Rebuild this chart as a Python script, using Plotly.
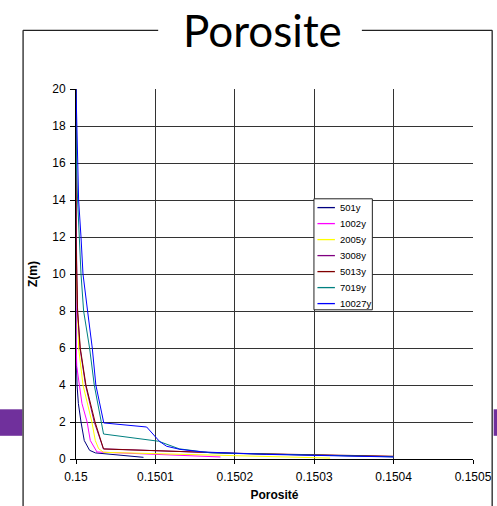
import plotly.graph_objects as go

# ---- data ----
series_names = ["501y", "1002y", "2005y", "3008y", "5013y", "7019y", "10027y"]
series_colors = ["#000080", "#FF00FF", "#FFFF00", "#800080", "#800000", "#008080", "#0000FF"]

z_501 = [20, 6, 4, 3, 2, 1, 0.47, 0.33, 0.09]
x_501 = [0.15, 0.15, 0.1500013, 0.150003, 0.1500063, 0.1500104, 0.1500171, 0.1500245, 0.150085]

z_1002 = [20, 6.5, 5, 4, 3, 2, 1, 0.38, 0.11]
x_1002 = [0.15, 0.15, 0.150001, 0.1500045, 0.1500075, 0.150014, 0.150018, 0.1500264, 0.150182]

z_2005 = [20, 10.5, 8, 6, 4, 2, 1, 0.56, 0.36, 0.05]
x_2005 = [0.15, 0.15, 0.150002, 0.1500033, 0.1500088, 0.15002, 0.1500243, 0.1500285, 0.1500347, 0.15032]

z_3008 = [20, 14, 10, 8, 6, 4, 2, 0.55, 0.3, 0.13]
x_3008 = [0.15, 0.15, 0.150001, 0.150002, 0.150005, 0.150012, 0.150023, 0.1500345, 0.1502, 0.1504]

z_5013 = [20, 16, 12, 8, 6, 4, 2, 0.54, 0.31, 0.15]
x_5013 = [0.15, 0.15, 0.15, 0.150002, 0.1500054, 0.1500125, 0.150024, 0.1500347, 0.1502, 0.1504]

z_7019 = [20, 18, 16, 14, 12, 10, 8, 6, 4, 1.35, 0.96, 0.55, 0.33, 0.12]
x_7019 = [0.15, 0.15, 0.1500005, 0.150002, 0.1500038, 0.1500063, 0.1500096, 0.1500171, 0.150023,
          0.1500347, 0.150104, 0.15013, 0.15017, 0.1504]

z_10027 = [20, 16, 14, 12, 10, 8, 6, 4, 1.95, 1.73, 0.96, 0.69, 0.52, 0.38, 0.25, 0.11]
x_10027 = [0.15, 0.150002, 0.1500033, 0.1500063, 0.1500088, 0.1500146, 0.1500205, 0.150025,
           0.150035, 0.150089, 0.150105, 0.150114, 0.150131, 0.15016, 0.15024, 0.1504]

x_ticks = [0.15, 0.1501, 0.1502, 0.1503, 0.1504, 0.1505]
x_tick_labels = ["0.15", "0.1501", "0.1502", "0.1503", "0.1504", "0.1505"]
y_ticks = list(range(0, 21, 2))

all_x = [x_501, x_1002, x_2005, x_3008, x_5013, x_7019, x_10027]
all_z = [z_501, z_1002, z_2005, z_3008, z_5013, z_7019, z_10027]

W, H = 497, 506
L, R, T, B = 75.7, 473.3, 88.7, 458.7

fig = go.Figure()
for name, col, xs, zs in zip(series_names, series_colors, all_x, all_z):
    fig.add_trace(go.Scatter(x=xs, y=zs, mode="lines", name=name,
                             line=dict(color=col, width=1), showlegend=False))


def px(xp):
    return (xp - L) / (R - L)


def py(yp):
    return (B - yp) / (B - T)


shapes = []
annotations = []
# frame around chart (slide box)
frame = dict(type="line", xref="paper", yref="paper", line=dict(color="#222", width=1.3))
shapes.append(dict(frame, x0=px(22.7), x1=px(22.7), y0=py(30), y1=py(520)))
shapes.append(dict(frame, x0=px(492.5), x1=px(492.5), y0=py(30), y1=py(520)))
shapes.append(dict(frame, x0=px(22.7), x1=px(158), y0=py(30), y1=py(30)))
shapes.append(dict(frame, x0=px(362), x1=px(492.5), y0=py(30), y1=py(30)))
# purple bands
shapes.append(dict(type="rect", xref="paper", yref="paper", x0=px(-5), x1=px(22), y0=py(409), y1=py(435.5),
                   fillcolor="#70309C", line=dict(width=0), layer="below"))
shapes.append(dict(type="rect", xref="paper", yref="paper", x0=px(494), x1=px(505), y0=py(409), y1=py(435.5),
                   fillcolor="#70309C", line=dict(width=0), layer="below"))

# legend box (drawn to match the original compact spacing)
shapes.append(dict(type="rect", xref="paper", yref="paper", x0=px(314), x1=px(372.5), y0=py(198.5), y1=py(309.5),
                   fillcolor="white", line=dict(color="#222", width=1)))
for i, (name, col) in enumerate(zip(series_names, series_colors)):
    yy = 207.3 + 16 * i
    shapes.append(dict(type="line", xref="paper", yref="paper", x0=px(317.5), x1=px(335), y0=py(yy), y1=py(yy),
                       line=dict(color=col, width=1.3)))
    annotations.append(dict(text=name, xref="paper", yref="paper", x=px(338.3), y=py(yy),
                            xanchor="left", yanchor="middle", showarrow=False,
                            font=dict(family="Liberation Sans, Arial", size=9.5, color="black")))

annotations.append(dict(text="Porosite", xref="paper", yref="paper", x=px(262), y=py(30),
                        xanchor="center", yanchor="middle", showarrow=False,
                        font=dict(family="Lato", size=44, color="black")))

fig.update_layout(
    width=W, height=H,
    margin=dict(l=L, r=W - R, t=T, b=H - B),
    paper_bgcolor="white", plot_bgcolor="white",
    shapes=shapes,
    showlegend=False,
    font=dict(family="Liberation Sans, Arial", size=12, color="black"),
    annotations=annotations,
)
fig.update_xaxes(range=[0.15, 0.1505], tickvals=x_ticks, ticktext=x_tick_labels,
                 showgrid=True, gridcolor="#333", gridwidth=1,
                 showline=True, linecolor="black", linewidth=1,
                 ticks="outside", ticklen=4, tickcolor="black", zeroline=False,
                 ticklabelstandoff=3, automargin=False,
                 title=dict(text="<b>Porosité</b>", font=dict(size=12), standoff=7),
                 tickfont=dict(size=12))
fig.update_yaxes(range=[0, 20], tickvals=y_ticks,
                 showgrid=True, gridcolor="#333", gridwidth=1,
                 showline=True, linecolor="black", linewidth=1,
                 ticks="outside", ticklen=5, tickcolor="black", zeroline=False,
                 ticklabelstandoff=2, automargin=False,
                 title=dict(text="<b>Z(m)</b>", font=dict(size=12), standoff=12),
                 tickfont=dict(size=12))

fig.write_html("out.html")
